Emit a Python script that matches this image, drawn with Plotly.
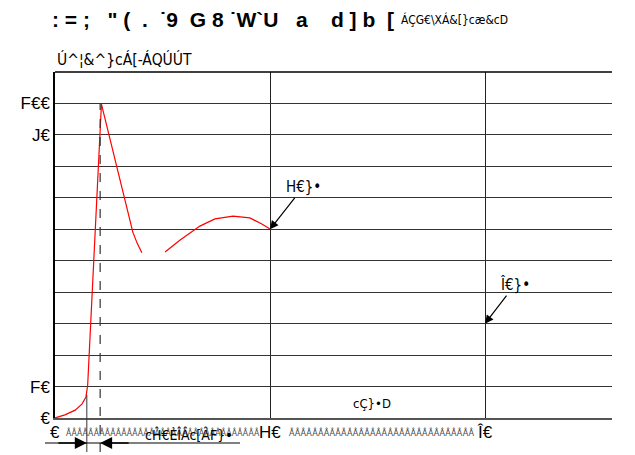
import plotly.graph_objects as go

# data
curve_x = [0, 2.3, 4.7, 6.3, 7.2, 7.6, 10.8, 18.1, 19.1, 20.2, None, 25.6, 29.1, 33.7, 37.2, 41.4, 45.3, 48.1, 50.0]
curve_y = [0, 1.0, 2.5, 4.5, 6.7, 10.5, 99.8, 59.1, 55.6, 52.5, None, 52.8, 56.6, 61.0, 63.3, 64.2, 63.6, 61.7, 60.1]
y_tick_vals = [0, 10, 90, 100]
y_tick_text = ["€", "F€", "J€", "F€€"]
x_tick_vals = [0, 50, 100]
x_tick_text = ["€", "H€", "Î€"]
callouts = [(50, 60, "H€}•", 33, -42), (100, 30, "Î€}•", 30, -39)]
title_bold = ': = ;   " (  .  ˙9  G 8 ˙W`U   a    d ] b  ['
title_rest = "ÁÇG€\\XÁ&[}cæ&cD"
y_title = "Ú^¦&^}cÁ[-ÁQÚÚT"
x_title = "cÇ}•D"
dim_label = "cĤ€ÈÎÂc[ÂF}•"
filler = "Â" * 35
filler2 = "Â" * 32
dim_left, dim_right = 7.4, 10.5

NARROW = "DejaVu Sans Condensed, Liberation Sans Narrow, Liberation Sans, Arial"
SANS = "Liberation Sans, Arial"

W, H = 635, 455
OFF = 8  # page offset of the figure
PL, PR, PT, PB = 55, 612, 72, 418  # plot box in screenshot pixels
L, T = PL - OFF, PT - OFF
B = H - (PB - OFF)
R = W - (PR - OFF)
XMAX = (PR - PL) / 4.3
YMAX = 110

def py(pix):
    return (PB - pix) / (PB - PT)

def px(pix):
    return (pix - PL) / (PR - PL)

fig = go.Figure()
fig.add_trace(go.Scatter(x=curve_x, y=curve_y, mode="lines",
                         line=dict(color="red", width=1.2), showlegend=False,
                         hoverinfo="skip"))

fig.update_layout(
    width=W, height=H, margin=dict(l=L, r=R, t=T, b=B),
    paper_bgcolor="white", plot_bgcolor="white", showlegend=False,
    font=dict(family=SANS, color="black"),
    xaxis=dict(range=[0, XMAX], showgrid=True, gridcolor="#222", gridwidth=1,
               tickvals=[50, 100], showticklabels=False, zeroline=False,
               showline=True, linecolor="#555", linewidth=2, ticks=""),
    yaxis=dict(range=[0, YMAX], showgrid=True, gridcolor="#333", gridwidth=1,
               tickvals=list(range(0, 111, 10)),
               ticktext=[y_tick_text[y_tick_vals.index(v)] if v in y_tick_vals else "" for v in range(0, 111, 10)],
               tickfont=dict(size=17, family=SANS), zeroline=False,
               showline=True, linecolor="black", linewidth=1.5, ticks=""),
)

# top border
fig.add_shape(type="line", xref="paper", yref="paper", x0=0, x1=1, y0=1, y1=1,
              line=dict(color="black", width=1.5))

# dimension lines
fig.add_shape(type="line", xref="x", yref="paper", x0=dim_right, x1=dim_right,
              y0=py(452), y1=py(103),
              line=dict(color="#333", width=1.2, dash="dash"))
fig.add_shape(type="line", xref="x", yref="paper", x0=dim_left, x1=dim_left,
              y0=py(452), y1=py(395), line=dict(color="#333", width=1))
fig.add_shape(type="line", xref="paper", yref="paper", x0=px(45), x1=px(240),
              y0=py(443), y1=py(443), line=dict(color="black", width=1))

ann = []
ann.append(dict(x=dim_left, y=py(443), xref="x", yref="paper", ax=-30, ay=0,
                text="", showarrow=True, arrowhead=2, arrowsize=1.6, arrowwidth=1.5, arrowcolor="black"))
ann.append(dict(x=dim_right, y=py(443), xref="x", yref="paper", ax=30, ay=0,
                text="", showarrow=True, arrowhead=2, arrowsize=1.6, arrowwidth=1.5, arrowcolor="black"))

for cx, cy, txt, dx, dy in callouts:
    ann.append(dict(x=cx, y=cy, xref="x", yref="y", ax=dx, ay=dy, text=txt,
                    showarrow=True, arrowhead=2, arrowsize=1.4, arrowwidth=1.2,
                    arrowcolor="black", font=dict(size=15, family=NARROW)))

# x tick labels row
xt_y = py(432)
for v, t in zip(x_tick_vals, x_tick_text):
    ann.append(dict(x=v, y=xt_y, xref="x", yref="paper", text=t, showarrow=False,
                    xanchor="center", yanchor="middle", font=dict(size=17, family=SANS)))
ann.append(dict(x=px(64), y=xt_y, xref="paper", yref="paper", text=filler, showarrow=False,
                xanchor="left", yanchor="middle", font=dict(size=8.6, family=NARROW, color="#444")))
ann.append(dict(x=px(287), y=xt_y, xref="paper", yref="paper", text=filler2, showarrow=False,
                xanchor="left", yanchor="middle", font=dict(size=9, family=NARROW, color="#444")))
ann.append(dict(x=px(189), y=py(435), xref="paper", yref="paper", text=dim_label,
                showarrow=False, xanchor="center", yanchor="middle",
                font=dict(size=14, family=NARROW)))

# axis titles
ann.append(dict(x=px(372), y=py(403), xref="paper", yref="paper", text=x_title,
                showarrow=False, xanchor="center", yanchor="middle", font=dict(size=13, family=NARROW)))
ann.append(dict(x=0, y=py(60), xref="paper", yref="paper", text=y_title, showarrow=False,
                xanchor="left", yanchor="middle", font=dict(size=15.5, family=NARROW)))

# title
ann.append(dict(x=px(50), y=py(19), xref="paper", yref="paper",
                text="<b>" + title_bold.replace(" ", "\u00a0") + "</b>", showarrow=False,
                xanchor="left", yanchor="middle", font=dict(size=21, family=SANS)))
ann.append(dict(x=px(399), y=py(19), xref="paper", yref="paper",
                text=title_rest, showarrow=False, xanchor="left", yanchor="middle",
                font=dict(size=12, family=NARROW)))

fig.update_layout(annotations=ann)
fig.write_html("out.html")
